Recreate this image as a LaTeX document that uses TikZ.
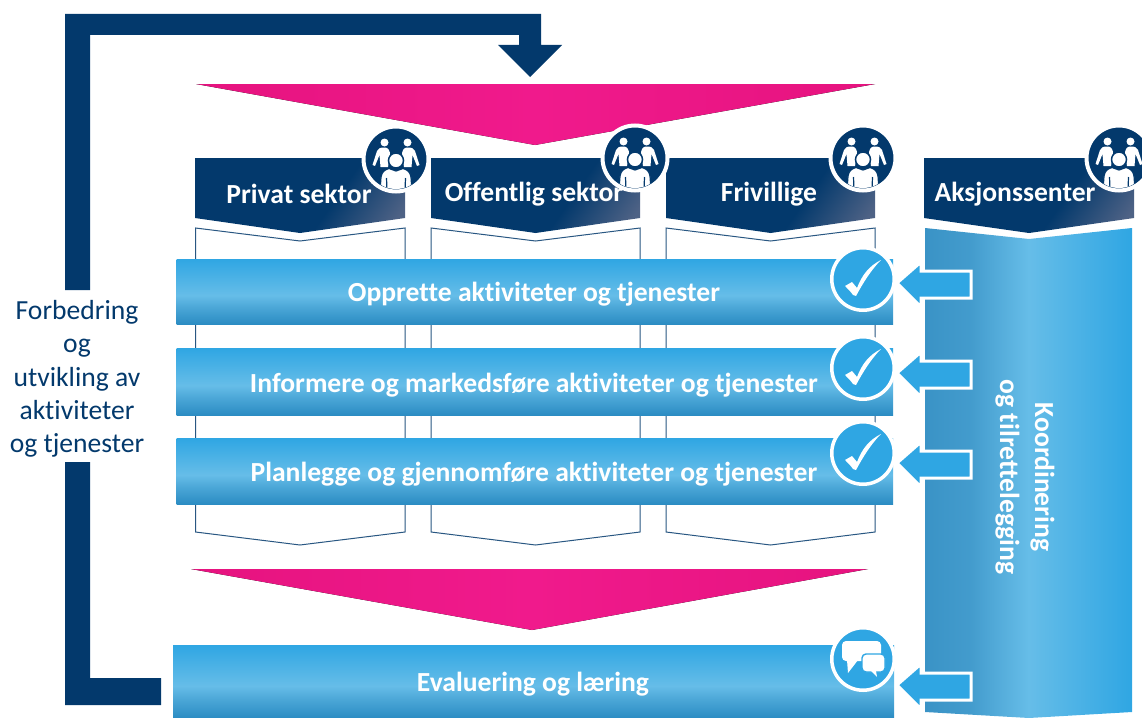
\documentclass[tikz,border=0pt]{standalone}
\usepackage{fontspec}
\setmainfont{Carlito}[Ligatures=NoCommon]
\definecolor{navy}{HTML}{03396C}
\definecolor{navylight}{HTML}{4E6285}
\definecolor{sky}{HTML}{2FA6E3}
\definecolor{skylight}{HTML}{66BDE8}
\definecolor{skydark}{HTML}{2B8CC3}
\definecolor{skyside}{HTML}{3A93C6}
\definecolor{magentaA}{HTML}{E6137F}
\definecolor{magentaB}{HTML}{F01A8C}
\pgfdeclareverticalshading{barshade}{100bp}{color(0bp)=(skydark); color(25bp)=(skydark); color(38bp)=(skylight!55!skydark); color(47bp)=(skylight); color(75bp)=(sky); color(100bp)=(sky)}
\pgfdeclarehorizontalshading{colshade}{100bp}{color(0bp)=(skyside); color(25bp)=(skyside); color(36bp)=(skyside!80!skylight); color(50bp)=(skylight); color(75bp)=(sky); color(100bp)=(sky)}
\pgfdeclarehorizontalshading{headshade}{100bp}{color(0bp)=(navy); color(60bp)=(navy); color(80bp)=(navylight); color(100bp)=(navylight)}
\tikzset{
  x=1pt,y=-1pt,
  headbox/.style={shading=headshade,shading angle=-35},
  outlinebox/.style={draw=navy!85!white,line width=1pt,fill=white},
  barbox/.style={shading=barshade},
  colbox/.style={shading=colshade},
  wedge/.style={left color=magentaA,right color=magentaA,middle color=magentaB},
  feedback/.style={fill=navy},
  sidearrow/.style={fill=sky,draw=white,line width=3pt,line join=miter},
  headtext/.style={text=white,font=\fontsize{27.6}{30}\selectfont\bfseries,inner sep=0pt},
  bartext/.style={text=white,font=\fontsize{27.6}{30}\selectfont\bfseries,inner sep=0pt},
  sidetext/.style={text=navy,font=\fontsize{27.6}{33.3}\selectfont,align=center,inner sep=0pt},
  badge/.style={circle,fill=sky,draw=white,line width=3.5pt,minimum size=62.5pt,inner sep=0pt},
  teamdisc/.style={circle,fill=navy,draw=white,line width=4pt,minimum size=65pt,inner sep=0pt},
  pics/peopleicon/.style={code={
    \begin{scope}
      \clip (0,0) circle (30);
      \fill[white] (-11.5,-16.5) circle (4) (11.5,-16.5) circle (4);
      \foreach \s in {-1,1}{
        \fill[white,xscale=\s] (-11.5,-11.5) .. controls (-15,-11.5) and (-18,-11) .. (-19,-8)
          -- (-23.5,6) -- (-21,7) -- (-16.5,-4) -- (-15.5,8) -- (-8,8) -- (-6,-6) .. controls (-7,-9.5) and (-8,-11.5) .. (-11.5,-11.5) -- cycle;
      }
      \fill[white,draw=navy,line width=1.5pt] (0,1.5) circle (7.5);
      \fill[white,draw=navy,line width=1.2pt] (0,12) -- (-7,9.5) .. controls (-12,11) and (-14,13) .. (-15,18) -- (-16,32) -- (16,32) -- (15,18) .. controls (14,13) and (12,11) .. (7,9.5) -- cycle;
      \draw[navy,line width=1.2pt] (-9.5,19) -- (-9,32) (9.5,19) -- (9,32);
    \end{scope}
  }},
  pics/tickicon/.style={code={
    \fill[white] (-18,7) -- (-11,3) -- (-6,9) .. controls (-1,-4) and (6,-13) .. (18,-19)
      .. controls (8,-9) and (0,4) .. (-7,17) -- (-10,16) .. controls (-12,13) and (-15,10) .. (-18,7) -- cycle;
  }},
  pics/chaticon/.style={code={
    \fill[white,rounded corners=4pt] (-21,-18) rectangle (18,2);
    \fill[white] (-16,1) -- (-15,14) -- (-5,1) -- cycle;
    \fill[white,draw=sky,line width=1.4pt,rounded corners=4pt] (-1,-5) rectangle (22,13);
    \fill[white] (8,12) -- (14,18) -- (13,12) -- cycle;
  }}
}
\begin{document}
\begin{tikzpicture}
\useasboundingbox (0,0) rectangle (1142,717);
\clip (0,0) rectangle (1142,717);
% feedback arrow
\coordinate (fbA) at (65,290);
\coordinate (fbB) at (65,462);
\fill[feedback] (fbA) -- (65,14) -- (541,14) -- (541,45) -- (562,45) -- (530,77) -- (498,45) -- (519,45) -- (519,35) -- (90,35) -- (90,290) -- cycle;
\fill[feedback] (fbB) -- (65,705) -- (161,705) -- (161,678) -- (90,678) -- (90,462) -- cycle;
% wedges
\fill[wedge] (196,84) -- (875,84) -- (535,145) -- cycle;
\fill[wedge] (191,569) -- (868,569) -- (532,630) -- cycle;
% outline boxes
\foreach \l/\r/\m in {195.5/405/300,431/640/535.5,666/875/770.5}{
  \draw[outlinebox] (\l,228) -- (\m,241) -- (\r,228) -- (\r,532) -- (\m,545) -- (\l,532) -- cycle;
}
% headers
\foreach \l/\r/\m in {195/405/300,431/640/535.5,666/875/770.5,924/1134/1029}{
  \path[headbox] (\l,158) -- (\r,158) -- (\r,218) -- (\m,233) -- (\l,218) -- cycle;
}
% right column
\path[colbox] (925,228) -- (1029,239) -- (1132,228) -- (1132,712) -- (1029,718) -- (925,712) -- cycle;
% bars
\path[barbox] (176.5,259) rectangle (893,324);
\path[barbox] (176.5,348) rectangle (893,415);
\path[barbox] (176.5,438) rectangle (893,504);
\path[barbox] (173,645) rectangle (894,718);
% side arrows
\foreach \y in {283,373,463,685}{
  \path[sidearrow] (897,\y) -- (921,\y-21) -- (921,\y-12) -- (971,\y-12) -- (971,\y+15) -- (921,\y+15) -- (921,\y+24) -- cycle;
}
% discs
\node[teamdisc] (teamA) at (396,159) {};
\node[teamdisc] (teamB) at (635,158) {};
\node[teamdisc] (teamC) at (863,158) {};
\node[teamdisc] (teamD) at (1119,158) {};
\foreach \n in {teamA,teamB,teamC,teamD}{ \pic at (\n) {peopleicon}; }
\node[badge] (checkA) at (863,279) {};
\node[badge] (checkB) at (863,368) {};
\node[badge] (checkC) at (863,453) {};
\node[badge] (talk) at (863,659) {};
\foreach \n in {checkA,checkB,checkC}{ \pic at (\n) {tickicon}; }
\pic at (talk) {chaticon};
% text
\node[headtext] (tPrivat) at (299,194) {Privat sektor};
\node[headtext] (tOff) at (534,194) {Offentlig sektor};
\node[headtext] (tFriv) at (769,194) {Frivillige};
\node[headtext] (tAks) at (1015,194) {Aksjonssenter};
\node[bartext] (tOpp) at (534,294) {Opprette aktiviteter og tjenester};
\node[bartext] (tInf) at (534,385) {Informere og markedsføre aktiviteter og tjenester};
\node[bartext] (tPla) at (534,474) {Planlegge og gjennomføre aktiviteter og tjenester};
\node[bartext] (tEva) at (533,684) {Evaluering og læring};
\node[sidetext] (tSide) at (77,379) {Forbedring\\og\\utvikling av\\aktiviteter\\og tjenester};
\node[sidetext,text=white,font=\fontsize{27.6}{35}\selectfont\bfseries,rotate=-90] (tKoord) at (1025,477) {Koordinering\\og tilrettelegging};
\end{tikzpicture}
\end{document}
